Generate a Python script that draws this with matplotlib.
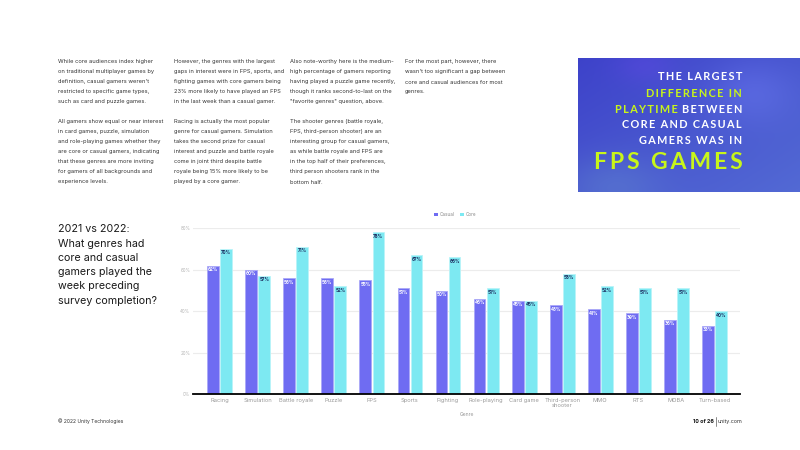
import numpy as np
import matplotlib.pyplot as plt
from matplotlib.patches import Patch

plt.rcParams['font.family'] = ['Inter', 'DejaVu Sans']

# chart data
genres = ['Racing', 'Simulation', 'Battle royale', 'Puzzle', 'FPS', 'Sports', 'Fighting',
          'Role-playing', 'Card game', 'Third-person\nshooter', 'MMO', 'RTS', 'MOBA', 'Turn-based']
casual = [62, 60, 56, 56, 55, 51, 50, 46, 45, 43, 41, 39, 36, 33]
core = [70, 57, 71, 52, 78, 67, 66, 51, 45, 58, 52, 51, 51, 40]
yticks = [0, 20, 40, 60, 80]

heading = ['2021 vs 2022:', 'What genres had', 'core and casual',
           'gamers played the', 'week preceding', 'survey completion?']

col1 = ["While core audiences index higher",
        "on traditional multiplayer games by",
        "definition, casual gamers weren't",
        "restricted to specific game types,",
        "such as card and puzzle games.",
        "",
        "All gamers show equal or near interest",
        "in card games, puzzle, simulation",
        "and role-playing games whether they",
        "are core or casual gamers, indicating",
        "that these genres are more inviting",
        "for gamers of all backgrounds and",
        "experience levels."]
col2 = ["However, the genres with the largest",
        "gaps in interest were in FPS, sports, and",
        "fighting games with core gamers being",
        "23% more likely to have played an FPS",
        "in the last week than a casual gamer.",
        "",
        "Racing is actually the most popular",
        "genre for casual gamers. Simulation",
        "takes the second prize for casual",
        "interest and puzzle and battle royale",
        "come in joint third despite battle",
        "royale being 15% more likely to be",
        "played by a core gamer."]
col3 = ["Also note-worthy here is the medium-",
        "high percentage of gamers reporting",
        "having played a puzzle game recently,",
        "though it ranks second-to-last on the",
        "\"favorite genres\" question, above.",
        "",
        "The shooter genres (battle royale,",
        "FPS, third-person shooter) are an",
        "interesting group for casual gamers,",
        "as while battle royale and FPS are",
        "in the top half of their preferences,",
        "third person shooters rank in the",
        "bottom half."]
col4 = ["For the most part, however, there",
        "wasn't too significant a gap between",
        "core and casual audiences for most",
        "genres."]

W, H = 800, 450
fig = plt.figure(figsize=(8, 4.5), dpi=100)
renderer = fig.canvas.get_renderer()


def px(x, y):
    return x / W, 1 - y / H


# text columns
for x0, lines in [(58, col1), (174, col2), (290, col3), (405, col4)]:
    for i, line in enumerate(lines):
        fig.text(*px(x0, 62 + 10 * i), line, fontsize=4.1, color='#333333', va='center')

# heading on the left
for i, line in enumerate(heading):
    fig.text(*px(58, 229.5 + 14.2 * i), line, fontsize=7.7, color='#1a1a1a', va='center')

# blue callout box
bx = fig.add_axes([578 / W, 1 - 192 / H, 222 / W, 134 / H])
gy, gx = np.mgrid[0:1:134j, 0:1:222j]
c_dark = np.array([0.24, 0.26, 0.79])
c_light = np.array([0.36, 0.48, 0.85])
t = np.clip(0.35 * gx + 0.35 * gy, 0, 1)[..., None]
img = c_dark * (1 - t) + c_light * t
blob1 = np.exp(-((gx - 0.78) ** 2 / 0.04 + (gy - 0.25) ** 2 / 0.06))[..., None]
blob2 = np.exp(-((gx - 0.3) ** 2 / 0.02 + (gy - 0.05) ** 2 / 0.02))[..., None]
blob3 = np.exp(-((gx - 0.15) ** 2 / 0.05 + (gy - 0.95) ** 2 / 0.05))[..., None]
img = img + 0.06 * blob1 + np.array([0.05, 0.0, 0.04]) * blob2 + np.array([0.04, 0.08, 0.0]) * blob3
bx.imshow(np.clip(img, 0, 1), aspect='auto', extent=[0, 1, 0, 1])
bx.set_axis_off()

lime = '#c8f51a'


def spaced(s):
    return '\u2009'.join(s)


title_font = dict(family=['Lato', 'DejaVu Sans'], fontweight='bold', va='center', ha='right')
box_lines = [('THE LARGEST', 'white', 76.7), ('DIFFERENCE IN', lime, 93.3),
             ('CORE AND CASUAL', 'white', 124.3), ('GAMERS WAS IN', 'white', 140.7)]
for s, c, y in box_lines:
    fig.text(*px(742, y), spaced(s), color=c, fontsize=7.8, **title_font)
tb = fig.text(*px(742, 109.3), spaced('BETWEEN'), color='white', fontsize=7.8, **title_font)
bb = tb.get_window_extent(renderer)
fig.text(bb.x0 / W, 1 - 109.3 / H, spaced('PLAYTIME') + ' \u2009', color=lime, fontsize=7.8, **title_font)
fig.text(*px(743, 162.7), spaced('FPS GAMES'), color=lime, fontsize=16.6, **title_font)

# bar chart
ax = fig.add_axes([193 / W, 1 - 394.3 / H, 547 / W, 166 / H])
x = np.arange(len(genres))
bw = 0.31
off = 0.171
ax.bar(x - off, casual, bw, color='#6f6cf2', edgecolor='#aba9f7', linewidth=0.6, zorder=3)
ax.bar(x + off, core, bw, color='#7de9f2', edgecolor='#b9f4f8', linewidth=0.6, zorder=3)
for xi, v in zip(x, casual):
    ax.text(xi - off, v - 1.9, f'{v}%', ha='center', va='center', fontsize=3.2,
            color='white', fontweight='bold', zorder=4)
for xi, v in zip(x, core):
    ax.text(xi + off, v - 1.9, f'{v}%', ha='center', va='center', fontsize=3.2,
            color='#1c2b5e', fontweight='bold', zorder=4)

ax.set_xlim(-0.70, 13.67)
ax.set_ylim(0, 80)
ax.set_yticks(yticks)
ax.set_yticklabels([f'{v}%' for v in yticks])
ax.set_xticks(x)
ax.set_xticklabels(genres, linespacing=0.95)
ax.tick_params(axis='y', length=0, labelsize=3.2, labelcolor='#b5b5b5', pad=2)
ax.tick_params(axis='x', length=0, labelsize=4.1, labelcolor='#9a9a9a', pad=2.5)
ax.grid(axis='y', color='#ececec', linewidth=0.8, zorder=0)
for sp in ax.spines.values():
    sp.set_visible(False)
ax.axhline(0, color='black', linewidth=1.3, zorder=5, clip_on=False)
ax.set_xlabel('Genre', fontsize=3.6, color='#9a9a9a', labelpad=3)

handles = [Patch(facecolor='#6f6cf2', label='Casual'), Patch(facecolor='#7de9f2', label='Core')]
fig.legend(handles=handles, loc='center', bbox_to_anchor=px(455, 214.5), ncol=2, frameon=False,
           fontsize=3.3, labelcolor='#8a8a8a', handlelength=0.8, handleheight=0.8,
           columnspacing=1.2, handletextpad=0.4)

# footer
fig.text(*px(58, 421.5), '\u00a9 2022 Unity Technologies', fontsize=3.6, color='#333333', va='center')
ut = fig.text(*px(742, 421.5), 'unity.com', fontsize=3.9, color='#333333', va='center', ha='right')
ux = ut.get_window_extent(renderer).x0
sep_x = ux - 1.5
fig.lines.append(plt.Line2D([sep_x / W, sep_x / W], [1 - 417 / H, 1 - 426 / H],
                            transform=fig.transFigure, color='#333333', linewidth=0.4))
fig.text((sep_x - 1.5) / W, 1 - 421.5 / H, '10 of 26', fontsize=3.9, color='#111111',
         va='center', ha='right', fontweight='bold')

fig.savefig('out.png', dpi=100)
